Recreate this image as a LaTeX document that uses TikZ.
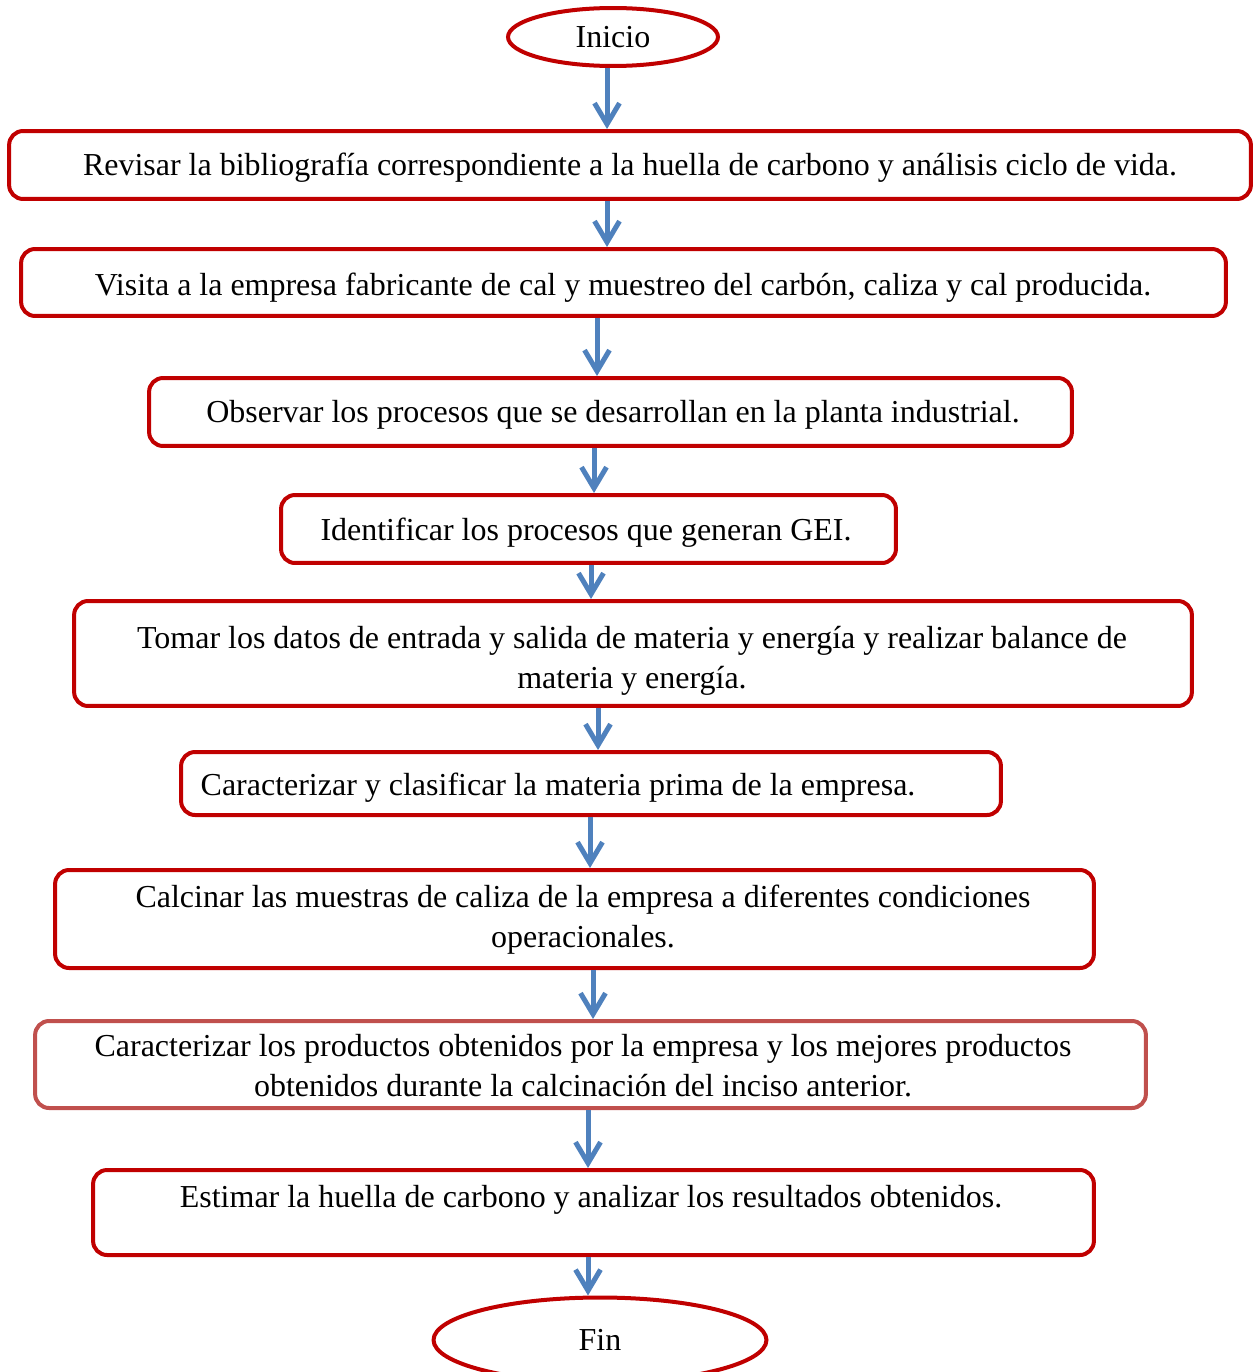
\documentclass[tikz,border=0pt]{standalone}
\usepackage{fontspec}
\setmainfont{Liberation Serif}
\usetikzlibrary{arrows.meta,shapes.geometric}
\definecolor{boxred}{HTML}{C00000}
\definecolor{softred}{HTML}{C0504D}
\definecolor{flowblue}{HTML}{4F81BD}
\tikzset{
  stepbox/.style={draw=boxred,line width=0.08cm,rounded corners=0.28cm,inner sep=0pt},
  endcap/.style={ellipse,draw=boxred,line width=0.08cm,inner sep=0pt,font=\fontsize{18.2}{22.8}\selectfont},
  txt/.style={font=\fontsize{18.2}{22.8}\selectfont,align=center,inner sep=0pt},
  flow/.style={draw=flowblue,line width=0.1cm,-{Straight Barb[length=0.42cm,width=0.5cm]}}
}

\begin{document}
\begin{tikzpicture}[x=0.02cm,y=-0.02cm]
    \useasboundingbox (0,0) rectangle (1259,1372);
      \node[endcap,minimum width=4.2cm,minimum height=1.16cm] (ini) at (613,37) {Inicio};
      \node[stepbox,minimum width=24.84cm,minimum height=1.36cm] (b1) at (630,165) {};
      \node[stepbox,minimum width=24.1cm,minimum height=1.34cm] (b2) at (623.5,282.5) {};
      \node[stepbox,minimum width=18.46cm,minimum height=1.36cm] (b3) at (610.5,412) {};
      \node[stepbox,minimum width=12.3cm,minimum height=1.36cm] (b4) at (588.5,529) {};
      \node[stepbox,minimum width=22.36cm,minimum height=2.1cm] (b5) at (633,653.5) {};
      \node[stepbox,minimum width=16.4cm,minimum height=1.26cm] (b6) at (591,783.5) {};
      \node[stepbox,minimum width=20.78cm,minimum height=1.96cm] (b7) at (574.5,919) {};
      \node[stepbox,draw=softred,minimum width=22.22cm,minimum height=1.74cm] (b8) at (590.5,1064.5) {};
      \node[stepbox,minimum width=20.02cm,minimum height=1.7cm] (b9) at (593.5,1212.5) {};
      \node[endcap,minimum width=6.66cm,minimum height=1.7cm] (fin) at (600,1340) {Fin};

      \node[txt] (t1) at (630,168) {Revisar la bibliografía correspondiente a la huella de carbono y análisis ciclo de vida.};
      \node[txt] (t2) at (623,288) {Visita a la empresa fabricante de cal y muestreo del carbón, caliza y cal producida.};
      \node[txt] (t3) at (613,415) {Observar los procesos que se desarrollan en la planta industrial.};
      \node[txt] (t4) at (586,533) {Identificar los procesos que generan GEI.};
      \node[txt] (t5) at (632,661) {Tomar los datos de entrada y salida de materia y energía y realizar balance de\\ materia y energía.};
      \node[txt] (t6) at (558,788) {Caracterizar y clasificar la materia prima de la empresa.};
      \node[txt] (t7) at (583,920) {Calcinar las muestras de caliza de la empresa a diferentes condiciones\\ operacionales.};
      \node[txt] (t8) at (583,1066) {Caracterizar los productos obtenidos por la empresa y los mejores productos\\ obtenidos durante la calcinación del inciso anterior.};
      \node[txt] (t9) at (591,1200) {Estimar la huella de carbono y analizar los resultados obtenidos.};

      \draw[flow] (ini.south -| 607,0) -- (b1.north -| 607,0);
      \draw[flow] (b1.south -| 607,0) -- (b2.north -| 607,0);
      \draw[flow] (b2.south -| 597,0) -- (b3.north -| 597,0);
      \draw[flow] (b3.south -| 594,0) -- (b4.north -| 594,0);
      \draw[flow] (b4.south -| 591,0) -- (b5.north -| 591,0);
      \draw[flow] (b5.south -| 598,0) -- (b6.north -| 598,0);
      \draw[flow] (b6.south -| 590,0) -- (b7.north -| 590,0);
      \draw[flow] (b7.south -| 593,0) -- (b8.north -| 593,0);
      \draw[flow] (b8.south -| 588,0) -- (b9.north -| 588,0);
      \draw[flow] (b9.south -| 588,0) -- (fin.north -| 588,0);
    \end{tikzpicture}
\end{document}
